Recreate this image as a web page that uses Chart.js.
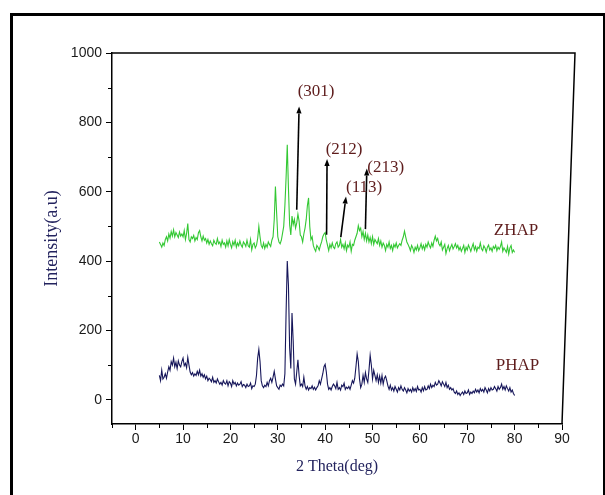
<!DOCTYPE html>
<html>
<head>
<meta charset="utf-8">
<script src="https://cdn.jsdelivr.net/npm/chart.js@4"></script>
<style>
  html, body { margin: 0; padding: 0; background: #fff; overflow: hidden; }
  #wrap { position: relative; width: 605px; height: 495px; }
  #frame { position: absolute; left: 10px; top: 13px; width: 590px; height: 520px; border: 3px solid #000; }
  canvas { position: absolute; left: 0; top: 0; }
</style>
</head>
<body>
<div id="wrap">
  <div id="frame"></div>
  <canvas id="c" width="605" height="495"></canvas>
</div>
<script>
// 2θ sampling angles (deg)
const twoTheta = [
  5,5.25,5.5,5.75,6,6.25,6.5,6.75,7,7.25,7.5,7.75,8,8.25,8.5,8.75,9,9.25,9.5,9.75,
  10,10.25,10.5,10.75,11,11.25,11.5,11.75,12,12.25,12.5,12.75,13,13.25,13.5,13.75,14,14.25,14.5,14.75,
  15,15.25,15.5,15.75,16,16.25,16.5,16.75,17,17.25,17.5,17.75,18,18.25,18.5,18.75,19,19.25,19.5,19.75,
  20,20.25,20.5,20.75,21,21.25,21.5,21.75,22,22.25,22.5,22.75,23,23.25,23.5,23.75,24,24.25,24.5,24.75,
  25,25.25,25.5,25.75,26,26.25,26.5,26.75,27,27.25,27.5,27.75,28,28.25,28.5,28.75,29,29.25,29.5,29.75,
  30,30.25,30.5,30.75,31,31.25,31.5,31.75,32,32.25,32.5,32.75,33,33.25,33.5,33.75,34,34.25,34.5,34.75,
  35,35.25,35.5,35.75,36,36.25,36.5,36.75,37,37.25,37.5,37.75,38,38.25,38.5,38.75,39,39.25,39.5,39.75,
  40,40.25,40.5,40.75,41,41.25,41.5,41.75,42,42.25,42.5,42.75,43,43.25,43.5,43.75,44,44.25,44.5,44.75,
  45,45.25,45.5,45.75,46,46.25,46.5,46.75,47,47.25,47.5,47.75,48,48.25,48.5,48.75,49,49.25,49.5,49.75,
  50,50.25,50.5,50.75,51,51.25,51.5,51.75,52,52.25,52.5,52.75,53,53.25,53.5,53.75,54,54.25,54.5,54.75,
  55,55.25,55.5,55.75,56,56.25,56.5,56.75,57,57.25,57.5,57.75,58,58.25,58.5,58.75,59,59.25,59.5,59.75,
  60,60.25,60.5,60.75,61,61.25,61.5,61.75,62,62.25,62.5,62.75,63,63.25,63.5,63.75,64,64.25,64.5,64.75,
  65,65.25,65.5,65.75,66,66.25,66.5,66.75,67,67.25,67.5,67.75,68,68.25,68.5,68.75,69,69.25,69.5,69.75,
  70,70.25,70.5,70.75,71,71.25,71.5,71.75,72,72.25,72.5,72.75,73,73.25,73.5,73.75,74,74.25,74.5,74.75,
  75,75.25,75.5,75.75,76,76.25,76.5,76.75,77,77.25,77.5,77.75,78,78.25,78.5,78.75,79,79.25,79.5,79.75,
  80
];

// ZHAP intensities (a.u.)
const zhap = [
  455,448,440,452, 445,462,470,458, 478,466,485,472, 490,470,482,475, 468,484,472,478,
  470,488,462,480, 508,462,455,470, 465,474,458,468, 462,482,488,470, 458,472,460,465,
  452,462,448,458, 450,444,460,452, 448,465,450,455, 442,460,448,452, 440,458,444,462,
  448,438,456,446, 460,440,452,444, 458,446,440,455, 450,442,460,444, 440,462,432,448,
  452,438,445,465, 500,470,445,438, 452,436,448,440, 455,448,442,460, 470,520,615,540,
  470,455,450,460, 480,500,560,640, 735,610,505,475, 530,505,520,495, 510,535,515,475,
  470,455,478,495, 520,560,582,500, 462,470,445,435, 428,445,440,432, 445,455,470,478,
  482,460,445,430, 448,438,452,440, 436,450,455,440, 445,462,440,448, 435,452,430,446,
  440,455,428,448, 445,460,470,480, 502,488,495,470, 485,462,480,458, 475,455,468,450,
  470,448,462,456, 450,465,445,458, 440,452,445,430, 448,440,455,436, 445,430,448,440,
  452,438,445,450, 445,460,470,486, 470,455,448,440, 430,445,438,425, 440,432,445,430,
  438,450,435,445, 432,448,440,455, 445,438,452,442, 460,472,458,465, 450,444,455,432,
  440,448,422,436, 445,430,440,448, 435,442,450,438, 445,432,440,428, 436,445,425,440,
  432,446,438,428, 440,450,432,442, 428,440,436,452, 435,430,444,438, 426,440,446,432,
  438,428,442,436, 445,430,440,434, 442,455,428,438, 432,425,442,420, 438,445,425,432,
  425
];

// PHAP intensities (a.u.)
const phap = [
  70,55,85,60, 65,75,62,80, 95,85,110,100, 120,95,108,90, 112,100,95,110,
  120,98,105,92, 122,100,80,72, 78,68,75,70, 82,72,85,68, 75,65,72,60,
  68,55,62,58, 52,65,50,55, 48,60,52,45, 50,42,55,48, 45,55,40,52,
  48,38,55,45, 50,40,48,42, 45,52,38,44, 42,35,45,38, 40,48,32,40,
  38,45,70,120, 145,110,55,40, 35,42,38,50, 40,55,62,50, 65,82,60,40,
  35,30,42,38, 45,40,75,250, 400,330,150,90, 250,170,60,45, 80,115,70,40,
  45,38,65,40, 30,38,28,35, 32,40,30,36, 28,35,40,55, 45,60,75,95,
  102,80,45,30, 35,28,38,45, 40,32,50,30, 35,28,42,38, 48,30,36,32,
  38,30,42,55, 48,62,95,132, 110,60,35,45, 70,50,78,60, 50,85,128,100,
  60,85,70,55, 72,50,68,48, 70,45,62,68, 55,40,30,42, 28,35,25,38,
  30,22,35,28, 40,30,25,35, 28,20,32,25, 30,22,35,25, 32,24,38,28,
  30,22,35,26, 38,28,30,40, 32,45,35,42, 38,50,42,45, 55,48,40,52,
  45,38,50,35, 42,30,35,28, 32,22,18,25, 15,20,12,18, 22,15,25,18,
  20,28,15,22, 18,25,20,30, 22,28,20,32, 25,30,22,35, 28,20,32,25,
  35,28,30,38, 32,25,38,30, 35,45,30,38, 28,40,32,25, 35,22,28,18,
  12
];

// axis ticks
const xMajorTicks = [0,10,20,30,40,50,60,70,80,90];
const xMinorTicks = [-5,5,15,25,35,45,55,65,75,85];
const yMajorTicks = [0,200,400,600,800,1000];
const yMinorTicks = [100,300,500,700,900];

// peak annotations (Miller indices) and arrows
const hklLabels = ['(301)','(212)','(113)','(213)'];
const arrowFromX = [34.0, 40.3, 43.3, 48.5];
const arrowFromY = [548, 476, 469, 492];
const arrowToX   = [34.5, 40.4, 44.4, 48.8];
const arrowToY   = [846, 694, 586, 667];
const hklLabelX  = [34.2, 40.1, 44.4, 48.9];
const hklLabelY  = [890, 723, 612, 669];

// series names placed beside the curves
const seriesNames  = ['ZHAP','PHAP'];
const seriesLabelX = [80.3, 80.6];
const seriesLabelY = [488, 98];

const toPts = (xs, ys) => xs.map((x, i) => ({x: x, y: ys[i]}));

const annotate = {
  id: 'annotate',
  afterDatasetsDraw(chart) {
    const {ctx, chartArea, scales: {x, y}} = chart;
    ctx.save();
    // top and (slightly slanted) right frame of the plot box
    ctx.strokeStyle = '#000';
    ctx.lineWidth = 1.5;
    ctx.beginPath();
    ctx.moveTo(chartArea.left, chartArea.top);
    ctx.lineTo(chartArea.right + 13, chartArea.top);
    ctx.lineTo(chartArea.right, chartArea.bottom);
    ctx.stroke();

    // minor ticks
    ctx.lineWidth = 1;
    ctx.beginPath();
    xMinorTicks.forEach(v => {
      const px = Math.round(x.getPixelForValue(v)) + 0.5;
      ctx.moveTo(px, chartArea.bottom);
      ctx.lineTo(px, chartArea.bottom + 4);
    });
    yMinorTicks.forEach(v => {
      const py = Math.round(y.getPixelForValue(v)) + 0.5;
      ctx.moveTo(chartArea.left, py);
      ctx.lineTo(chartArea.left - 4, py);
    });
    ctx.stroke();

    // arrows
    ctx.fillStyle = '#000';
    ctx.lineWidth = 1.6;
    for (let i = 0; i < hklLabels.length; i++) {
      const x0 = x.getPixelForValue(arrowFromX[i]), y0 = y.getPixelForValue(arrowFromY[i]);
      const x1 = x.getPixelForValue(arrowToX[i]),   y1 = y.getPixelForValue(arrowToY[i]);
      const ang = Math.atan2(y1 - y0, x1 - x0);
      const hl = 7, hw = 2.6;
      const bx = x1 - hl * Math.cos(ang), by = y1 - hl * Math.sin(ang);
      ctx.beginPath();
      ctx.moveTo(x0, y0);
      ctx.lineTo(bx, by);
      ctx.stroke();
      ctx.beginPath();
      ctx.moveTo(x1, y1);
      ctx.lineTo(bx + hw * Math.sin(ang), by - hw * Math.cos(ang));
      ctx.lineTo(bx - hw * Math.sin(ang), by + hw * Math.cos(ang));
      ctx.closePath();
      ctx.fill();
    }
    // hkl labels
    ctx.fillStyle = '#5e1c1c';
    ctx.font = '17px "Liberation Serif", "Times New Roman", serif';
    ctx.textAlign = 'left';
    ctx.textBaseline = 'middle';
    for (let i = 0; i < hklLabels.length; i++) {
      ctx.fillText(hklLabels[i], x.getPixelForValue(hklLabelX[i]), y.getPixelForValue(hklLabelY[i]));
    }
    // series names
    ctx.textAlign = 'center';
    ctx.font = '17px "Liberation Serif", "Times New Roman", serif';
    for (let i = 0; i < seriesNames.length; i++) {
      ctx.fillText(seriesNames[i], x.getPixelForValue(seriesLabelX[i]), y.getPixelForValue(seriesLabelY[i]));
    }
    ctx.restore();
  }
};

new Chart(document.getElementById('c'), {
  type: 'line',
  data: {
    datasets: [
      { label: 'ZHAP', data: toPts(twoTheta, zhap), borderColor: '#33c833', borderWidth: 1.1, pointRadius: 0, tension: 0, fill: false },
      { label: 'PHAP', data: toPts(twoTheta, phap), borderColor: '#16165a', borderWidth: 1.1, pointRadius: 0, tension: 0, fill: false }
    ]
  },
  options: {
    responsive: false,
    animation: false,
    events: [],
    layout: { padding: { left: 0, right: 43, top: 53, bottom: 0 } },
    plugins: { legend: { display: false }, tooltip: { enabled: false } },
    scales: {
      x: {
        type: 'linear',
        min: -5, max: 90,
        afterBuildTicks: s => { s.ticks = xMajorTicks.map(v => ({value: v})); },
        afterFit: s => { s.height = 71; },
        grid: { drawOnChartArea: false, drawTicks: true, tickLength: 6, color: '#000', tickColor: '#000', lineWidth: 1 },
        border: { color: '#000', width: 1.5 },
        ticks: {
          autoSkip: false, maxRotation: 0, padding: 1, color: '#1a1a1a',
          font: { family: '"Liberation Sans", Arial, sans-serif', size: 14 },
          callback: v => String(v)
        },
        title: {
          display: true, text: '2 Theta(deg)', color: '#23235e',
          font: { family: '"Liberation Serif", "Times New Roman", serif', size: 16 },
          padding: { top: 0, bottom: 19 }
        }
      },
      y: {
        type: 'linear',
        min: -70, max: 1000,
        afterBuildTicks: s => { s.ticks = yMajorTicks.map(v => ({value: v})); },
        afterFit: s => { s.width = 112; },
        grid: { drawOnChartArea: false, drawTicks: true, tickLength: 6, color: '#000', tickColor: '#000', lineWidth: 1 },
        border: { color: '#000', width: 1.5 },
        ticks: {
          autoSkip: false, padding: 4, color: '#1a1a1a',
          font: { family: '"Liberation Sans", Arial, sans-serif', size: 14 },
          callback: v => String(v)
        },
        title: {
          display: true, text: 'Intensity(a.u)', color: '#23235e',
          font: { family: '"Liberation Serif", "Times New Roman", serif', size: 18 },
          padding: { top: 41, bottom: 0 }
        }
      }
    }
  },
  plugins: [annotate]
});
</script>
</body>
</html>
